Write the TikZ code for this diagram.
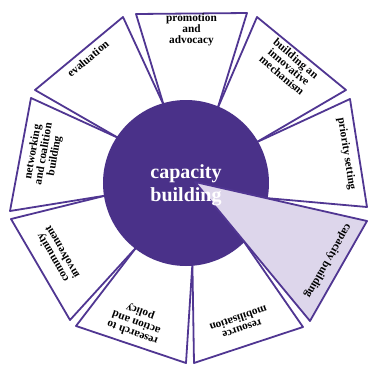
\documentclass[tikz,border=0pt]{standalone}
\usepackage{fontspec}
\setmainfont{Liberation Serif}
\definecolor{hubpurple}{RGB}{74,49,137}
\definecolor{rimline}{RGB}{80,54,146}
\definecolor{paleviolet}{RGB}{221,214,235}
\begin{document}
\begin{tikzpicture}[x=1pt,y=-1pt,
  wedge/.style={draw=rimline, fill=white, line width=1.8pt, line join=round},
  hilite/.style={draw=rimline, fill=paleviolet, line width=1.8pt, line join=round},
  lbl/.style={font=\bfseries\fontsize{11.3}{11}\selectfont, align=center, inner sep=0pt, text=black},
  hubtext/.style={font=\bfseries\fontsize{20}{23}\selectfont, align=center, inner sep=0pt, text=white}
]
\useasboundingbox (0,0) rectangle (368,365);

% hub centre
\coordinate (C) at (186,183);

% points where neighbouring wedges meet at the hub rim
\coordinate (b1) at (163.7,105.1);
\coordinate (b2) at (217.6,108.4);
\coordinate (b3) at (256.1,142.5);
\coordinate (b4) at (265.6,198.0);
\coordinate (b5) at (243.1,240.5);
\coordinate (b6) at (192.4,263.7);
\coordinate (b7) at (136.5,247.1);
\coordinate (b8) at (106.0,195.5);
\coordinate (b9) at (118.6,138.1);

% outer corners of the wedges
\coordinate (E1) at (35,90);   \coordinate (E2) at (123,17);
\coordinate (P1) at (136,14);  \coordinate (P2) at (247,13);
\coordinate (B1) at (257,17);  \coordinate (B2) at (346,90);
\coordinate (R1) at (350,99);  \coordinate (R2) at (367,207);
\coordinate (L1) at (367,221); \coordinate (L2) at (310,321);
\coordinate (LA) at (195,182);
\coordinate (S1) at (303,327); \coordinate (S2) at (194,363);
\coordinate (H1) at (186,363); \coordinate (H2) at (76,326);
\coordinate (M1) at (70,320);  \coordinate (M2) at (11,219);
\coordinate (N1) at (10,211);  \coordinate (N2) at (31,98);

% white wedges
\draw[wedge] (b9) -- (E1) -- (E2) -- (b1) -- cycle;
\draw[wedge] (b1) -- (P1) -- (P2) -- (b2) -- cycle;
\draw[wedge] (b2) -- (B1) -- (B2) -- (b3) -- cycle;
\draw[wedge] (b3) -- (R1) -- (R2) -- (b4) -- cycle;
\draw[wedge] (b5) -- (S1) -- (S2) -- (b6) -- cycle;
\draw[wedge] (b6) -- (H1) -- (H2) -- (b7) -- cycle;
\draw[wedge] (b7) -- (M1) -- (M2) -- (b8) -- cycle;
\draw[wedge] (b8) -- (N1) -- (N2) -- (b9) -- cycle;

% hub
\fill[hubpurple] (C) circle[radius=83];

% highlighted wedge, pulled out to the hub
\draw[hilite] (LA) -- (L1) -- (L2) -- cycle;

% hub text
\node[hubtext] (hub) at (186,185) {capacity\\building};

% wedge labels
\node[lbl] (promo) at (191.5,30) {promotion\\and\\advocacy};
\node[lbl, rotate=40] (evalu) at (88,58.5) {evaluation};
\node[lbl, rotate=-40] (innov) at (289,67) {building an\\innovative\\mechanism};
\node[lbl, rotate=-81] (prio) at (346.5,154) {priority setting};
\node[lbl, rotate=-120] (capb) at (328,261) {capacity building};
\node[lbl, rotate=199] (resmob) at (240,323) {resource\\mobilisation};
\node[lbl, rotate=160] (resact) at (136.5,322) {research to\\action and\\policy};
\node[lbl, rotate=120] (comm) at (57,255) {community\\involvement};
\node[lbl, rotate=80] (netw) at (44,154) {networking\\and coalition\\building};
\end{tikzpicture}
\end{document}
